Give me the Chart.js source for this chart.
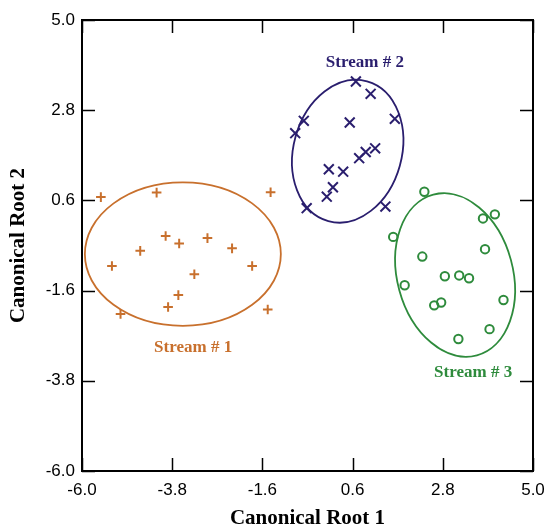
<!DOCTYPE html>
<html>
<head>
<meta charset="utf-8">
<script src="https://cdn.jsdelivr.net/npm/chart.js@4/dist/chart.umd.min.js"></script>
<style>
html,body{margin:0;padding:0;background:#fff;}
canvas{display:block;}
</style>
</head>
<body>
<canvas id="c" width="549" height="531"></canvas>
<script>
// ---- data ----
const xTicks = [-6.0, -3.8, -1.6, 0.6, 2.8, 5.0];
const yTicks = [-6.0, -3.8, -1.6, 0.6, 2.8, 5.0];

const stream1X = [-5.54, -4.18, -1.40, -3.96, -3.63, -2.94, -4.58, -2.34, -5.27, -1.85, -3.26, -3.65, -3.90, -5.06, -1.47];
const stream1Y = [0.68, 0.79, 0.80, -0.27, -0.45, -0.32, -0.63, -0.57, -1.00, -1.00, -1.20, -1.71, -2.00, -2.17, -2.06];

const stream2X = [0.68, 1.04, 1.63, -0.59, -0.80, 0.53, 1.15, 0.92, 0.76, 0.02, 0.37, 0.12, -0.03, -0.52, 1.40];
const stream2Y = [3.50, 3.20, 2.59, 2.54, 2.24, 2.50, 1.87, 1.78, 1.63, 1.36, 1.30, 0.92, 0.69, 0.41, 0.45];

const stream3X = [2.35, 4.07, 3.78, 1.59, 3.83, 2.30, 2.85, 3.20, 3.44, 1.87, 4.28, 2.76, 2.59, 3.94, 3.18];
const stream3Y = [0.81, 0.26, 0.16, -0.29, -0.59, -0.77, -1.25, -1.23, -1.30, -1.47, -1.83, -1.89, -1.96, -2.54, -2.78];

const streamNames = ['Stream # 1', 'Stream # 2', 'Stream # 3'];
// ellipse parameters: centre x, centre y, semi-axis x, semi-axis y, rotation (deg)
const ellipseCX = [-3.54, 0.48, 3.10];
const ellipseCY = [-0.71, 1.80, -1.22];
const ellipseRX = [2.39, 1.32, 1.41];
const ellipseRY = [1.75, 1.77, 2.03];
const ellipseRot = [0, 15.5, -15.2];
// label anchor positions (data coords)
const labelX = [-3.29, 0.90, 3.54];
const labelY = [-3.00, 3.96, -3.60];

// ---- styles ----
const colors = ['#c8702d', '#2a1e6e', '#2e8b3c'];
const pts = (xs, ys) => xs.map((x, i) => ({x: x, y: ys[i]}));

const framePlugin = {
  id: 'frame',
  afterDraw(chart) {
    const {ctx, chartArea: a, scales} = chart;
    const xs = scales.x, ys = scales.y;
    ctx.save();
    ctx.strokeStyle = '#000';
    ctx.lineWidth = 1.5;
    const tl = 13;
    ctx.beginPath();
    xTicks.forEach(v => {
      const px = Math.round(xs.getPixelForValue(v)) + 0.5;
      ctx.moveTo(px, a.bottom); ctx.lineTo(px, a.bottom - tl);
      ctx.moveTo(px, a.top); ctx.lineTo(px, a.top + tl);
    });
    yTicks.forEach(v => {
      const py = Math.round(ys.getPixelForValue(v)) + 0.5;
      ctx.moveTo(a.left, py); ctx.lineTo(a.left + tl, py);
      ctx.moveTo(a.right, py); ctx.lineTo(a.right - tl, py);
    });
    ctx.stroke();
    ctx.lineWidth = 2;
    ctx.strokeRect(a.left, a.top, a.right - a.left, a.bottom - a.top);
    ctx.restore();
  }
};

const ellipsePlugin = {
  id: 'ellipses',
  beforeDatasetsDraw(chart) {
    const {ctx, scales} = chart;
    const xs = scales.x, ys = scales.y;
    ctx.save();
    ellipseCX.forEach((cxv, i) => {
      const cx = xs.getPixelForValue(cxv);
      const cy = ys.getPixelForValue(ellipseCY[i]);
      const rx = Math.abs(xs.getPixelForValue(cxv + ellipseRX[i]) - cx);
      const ry = Math.abs(cy - ys.getPixelForValue(ellipseCY[i] + ellipseRY[i]));
      ctx.beginPath();
      ctx.ellipse(cx, cy, rx, ry, ellipseRot[i] * Math.PI / 180, 0, Math.PI * 2);
      ctx.strokeStyle = colors[i];
      ctx.lineWidth = 1.8;
      ctx.stroke();
    });
    // labels
    ctx.font = 'bold 17px "Liberation Serif", "Times New Roman", serif';
    ctx.textAlign = 'center';
    ctx.textBaseline = 'middle';
    streamNames.forEach((t, i) => {
      ctx.fillStyle = colors[i];
      ctx.fillText(t, xs.getPixelForValue(labelX[i]), ys.getPixelForValue(labelY[i]));
    });
    ctx.restore();
  }
};

const tickFont = {family: '"Liberation Sans", Arial, sans-serif', size: 17};
const titleFont = {family: '"Liberation Serif", "Times New Roman", serif', size: 21, weight: 'bold'};

new Chart(document.getElementById('c'), {
  type: 'scatter',
  data: {
    datasets: [
      {label: streamNames[0], data: pts(stream1X, stream1Y), pointStyle: 'cross', pointRadius: 4.8, borderColor: colors[0], borderWidth: 2, backgroundColor: colors[0]},
      {label: streamNames[1], data: pts(stream2X, stream2Y), pointStyle: 'crossRot', pointRadius: 7, borderColor: colors[1], borderWidth: 2, backgroundColor: colors[1]},
      {label: streamNames[2], data: pts(stream3X, stream3Y), pointStyle: 'circle', pointRadius: 4.2, borderColor: colors[2], borderWidth: 2, backgroundColor: 'rgba(0,0,0,0)'}
    ]
  },
  options: {
    responsive: false,
    animation: false,
    events: [],
    layout: {padding: {top: 20, right: 16, left: 0, bottom: 0}},
    plugins: {legend: {display: false}, tooltip: {enabled: false}},
    scales: {
      x: {
        type: 'linear', min: -6, max: 5,
        afterBuildTicks: s => { s.ticks = xTicks.map(v => ({value: v})); },
        afterFit: s => { s.height = 60; s.paddingLeft = 0; s.paddingRight = 0; },
        grid: {display: false, drawTicks: false},
        border: {display: false},
        ticks: {font: tickFont, color: '#000', padding: 9, maxRotation: 0, autoSkip: false, callback: v => Number(v).toFixed(1)},
        title: {display: true, text: 'Canonical Root 1', font: titleFont, color: '#000', padding: {top: 0, bottom: 0}}
      },
      y: {
        type: 'linear', min: -6, max: 5,
        afterBuildTicks: s => { s.ticks = yTicks.map(v => ({value: v})); },
        afterFit: s => { s.width = 82; s.paddingTop = 0; s.paddingBottom = 0; },
        grid: {display: false, drawTicks: false},
        border: {display: false},
        ticks: {font: tickFont, color: '#000', padding: 7, autoSkip: false, callback: v => Number(v).toFixed(1)},
        title: {display: true, text: 'Canonical Root 2', font: titleFont, color: '#000', padding: {top: 6, bottom: 0}}
      }
    }
  },
  plugins: [ellipsePlugin, framePlugin]
});
</script>
</body>
</html>
